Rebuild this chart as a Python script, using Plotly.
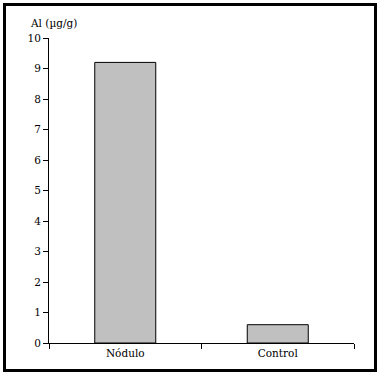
import plotly.graph_objects as go

categories = ["Nódulo", "Control"]
values = [9.2, 0.6]
y_ticks = [0, 1, 2, 3, 4, 5, 6, 7, 8, 9, 10]
y_title = "Al (µg/g)"

FONT = "DejaVu Serif"

fig = go.Figure()
fig.add_trace(go.Bar(
    x=categories, y=values, width=0.4,
    marker=dict(color="#c0c0c0", line=dict(color="black", width=1)),
))

W, H = 380, 375
L, R, T, B = 49, 26, 38, 32
pw, ph = W - L - R, H - T - B

def px_x(px):
    return (px - L) / pw

def px_y(py):
    return (H - B - py) / ph

fig.update_layout(
    width=W, height=H,
    margin=dict(l=L, r=R, t=T, b=B),
    paper_bgcolor="white", plot_bgcolor="white",
    showlegend=False,
    font=dict(family=FONT, size=10.5, color="black"),
    xaxis=dict(
        type="category", range=[-0.5, 1.5],
        tickson="boundaries", ticks="outside", ticklen=5, tickwidth=1, tickcolor="black",
        showline=True, linecolor="black", linewidth=1,
        showgrid=False, zeroline=False,
        tickfont=dict(family=FONT, size=10.5, color="black"),
    ),
    yaxis=dict(
        range=[0, 10], tickvals=y_ticks,
        ticks="outside", ticklen=5, tickwidth=1, tickcolor="black",
        showline=True, linecolor="black", linewidth=1,
        showgrid=False, zeroline=False,
        tickfont=dict(family=FONT, size=10.5, color="black"),
    ),
    shapes=[dict(
        type="rect", xref="paper", yref="paper",
        x0=px_x(4.5), x1=px_x(375.5), y0=px_y(370.5), y1=px_y(4.5),
        line=dict(color="black", width=3), fillcolor="rgba(0,0,0,0)",
        layer="above",
    )],
    annotations=[dict(
        text=y_title, xref="paper", yref="paper",
        x=px_x(28), y=px_y(23), xanchor="left", yanchor="middle",
        showarrow=False, font=dict(family=FONT, size=10.5, color="black"),
    )],
)

fig.write_html(
    "out.html",
    config={"displayModeBar": False},
    post_script="document.body.style.margin='0';document.body.style.overflow='hidden';",
)
